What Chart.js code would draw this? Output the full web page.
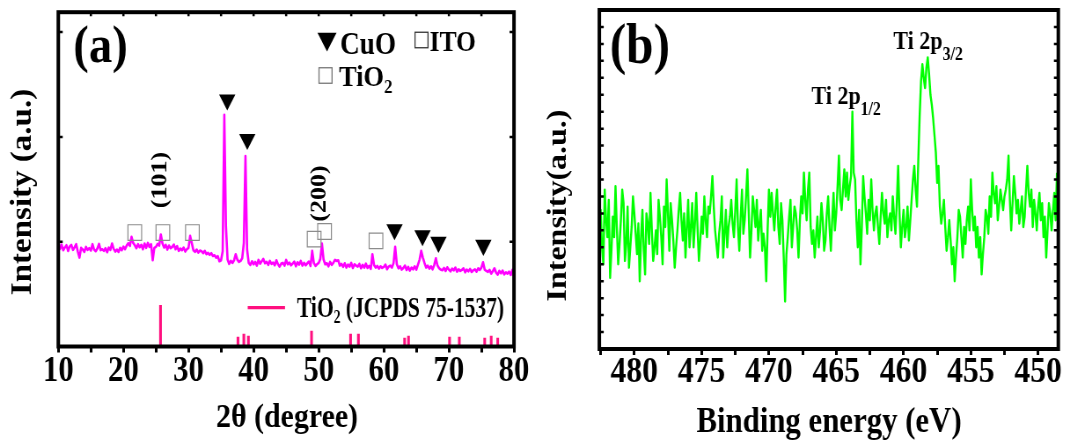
<!DOCTYPE html>
<html><head><meta charset="utf-8">
<script src="https://cdn.jsdelivr.net/npm/chart.js@4.4.1/dist/chart.umd.min.js"></script>
<style>
html,body{margin:0;padding:0;background:#fff;width:1070px;height:445px;overflow:hidden;}
canvas{position:absolute;top:0;}
</style></head><body>
<canvas id="ca" width="608" height="445" style="left:0px;width:535px;height:445px;"></canvas>
<canvas id="cb" width="608" height="445" style="left:535px;width:535px;height:445px;"></canvas>
<script>
// ---------- Panel (a): XRD ----------
const xrdStart = 10, xrdStep = 0.25;   // 2θ grid of the scan (degrees)
const xrdIntensity = [
 30.0,29.2,30.5,28.8, 29.6,30.3,28.6,29.9, 30.4,28.9,29.7,30.6, 28.4,26.6,29.5,29.0, 28.3,29.8,28.9,29.4,
 28.7,30.6,29.0,28.5, 29.3,30.7,28.8,29.1, 28.6,29.4,28.2,29.6, 28.9,30.8,29.2,28.4, 29.0,28.3,29.5,28.8,
 29.9,29.1,30.2,30.9, 30.1,32.8,31.0,30.3, 29.4,30.6,29.7,30.4, 29.1,30.8,29.5,31.0, 29.8,30.6,25.8,29.5,
 29.8,30.7,30.2,33.5, 30.8,29.6,30.4,29.0, 30.2,29.4,29.8,30.5, 29.1,30.0,28.6,29.3, 28.8,29.6,28.4,29.1,
 29.5,33.1,31.0,28.8, 28.3,29.0,28.1,28.7, 28.5,27.9,28.6,27.6, 28.0,27.4,27.9,27.1, 27.3,26.6,27.0,25.5,
 25.8,28.5,69.3,36.0, 26.0,24.7,25.6,25.0, 25.8,27.6,26.0,25.3, 25.6,26.4,31.0,57.0, 29.0,25.0,24.4,25.5,
 24.6,25.3,24.2,25.9, 24.8,25.5,26.2,24.9, 25.3,24.4,25.6,24.7, 25.1,24.3,25.8,24.6, 23.9,24.8,25.0,24.2,
 25.9,24.6,25.1,24.3, 24.8,25.4,24.0,25.2, 24.5,25.6,24.2,25.0, 24.3,24.9,25.4,24.1, 28.6,25.0,24.1,24.6,
 25.0,26.2,30.8,26.0, 24.6,24.9,24.0,25.3, 24.4,25.0,25.9,25.6, 25.8,24.2,24.7,23.8, 24.9,23.6,24.5,23.9,
 25.0,23.5,24.6,24.2, 23.9,24.7,23.4,24.4, 23.6,24.8,23.5,24.1, 23.2,27.6,24.4,23.6, 24.1,23.3,24.0,23.5,
 23.8,24.5,23.1,23.9, 24.2,23.6,25.0,29.8, 24.6,23.4,24.0,23.0, 23.5,24.2,22.9,23.8, 22.7,23.6,23.1,24.0,
 23.0,24.5,26.0,28.6, 26.6,25.0,23.6,24.2, 23.3,24.0,23.1,24.4, 26.4,24.2,23.4,23.0, 22.8,23.5,22.6,23.7,
 23.0,22.5,23.3,22.8, 23.6,22.4,23.1,22.6, 22.9,23.4,22.2,23.0, 22.5,23.2,22.3,22.8, 23.1,22.4,23.4,22.9,
 23.6,25.2,23.0,22.6, 22.3,22.9,21.8,22.5, 23.4,22.1,21.5,22.6, 21.9,22.7,21.6,22.2, 21.8,22.4,21.4,22.9,
 23.4
];
const jcpdsAngle  = [25.7, 37.6, 38.5, 39.2, 48.9, 54.9, 56.1, 63.2, 63.8, 70.1, 71.6, 75.5, 76.5, 77.5];
const jcpdsHeight = [12.3, 2.8, 3.7, 3.1, 4.6, 3.7, 3.7, 2.5, 3.1, 2.8, 2.8, 2.5, 3.1, 2.5];
const cuoMarkAngle  = [35.95, 39.03, 61.65, 65.95, 68.4, 75.3];
const cuoMarkHeight = [73.8, 62.0, 35.0, 33.2, 31.2, 30.3];
const squareMarkAngle  = [21.75, 26.06, 30.6, 49.3, 50.9, 58.8];
const squareMarkHeight = [34.1, 34.1, 34.1, 32.1, 34.4, 31.6];
const xrdTickLabels = [10, 20, 30, 40, 50, 60, 70, 80];

// ---------- Panel (b): XPS Ti 2p ----------
const xpsStart = 482.6, xpsStep = -0.1;   // binding-energy grid (eV)
const xpsIntensity = [
 36,41,30,25,47,38,33,44,21,29,  39,33,48,36,25,31,38,47,43,26,  31,42,24,30,36,45,40,34,28,37,
 20,33,41,29,22,40,37,31,46,35,  26,30,35,28,44,39,33,25,42,36,  50,40,29,43,38,32,24,30,35,41,
 46,38,32,40,27,36,44,30,36,43,  30,37,46,35,26,32,39,34,45,38,  33,42,40,45,51,42,35,31,27,34,
 38,45,27,34,41,30,36,39,44,37,  33,41,50,36,29,39,47,34,38,45,  53,40,27,35,45,41,36,44,32,37,
 41,29,34,30,20,35,47,39,46,40,  35,42,47,36,31,43,38,27,14,28,  33,39,44,30,36,42,40,35,27,38,
 45,40,52,44,38,47,52,36,31,35,  27,33,39,30,35,43,38,29,32,40,  45,36,29,38,46,35,40,48,57,44,
 41,47,53,45,52,44,48,51,70,52,  50,38,30,41,25,36,51,45,40,34,  44,38,50,41,35,40,42,36,31,39,
 46,40,37,44,33,38,40,35,45,39,  34,43,54,40,30,36,41,33,36,42,  32,38,44,50,54,47,42,56,69,79,
 84,80,77,83,86,81,75,72,68,63,  58,49,54,42,37,40,44,36,29,33,  38,32,25,30,20,27,33,41,39,33,
 27,36,31,38,42,35,50,41,35,39,  30,36,27,33,22,28,33,41,39,34,  45,39,52,46,43,48,38,42,47,44,
 41,45,47,50,57,44,35,43,51,46,  40,44,37,41,45,36,39,47,54,46,  42,47,36,44,40,35,42,46,38,43,
 33,39,27,35,43,40,35,41,46,38,
 52
];
const xpsTickLabels = [480, 475, 470, 465, 460, 455, 450];

// ---------- drawing helpers ----------
const FONT = '"Liberation Serif","Times New Roman",serif';
const SX = 535 / 608;           // horizontal squeeze of the original figure
const X = css => css / SX;
const STICK = '#FF0F7F';

function text(ctx, s, x, y, size, align) {
  ctx.font = 'bold ' + size + 'px ' + FONT;
  ctx.textAlign = align || 'left'; ctx.textBaseline = 'alphabetic';
  ctx.fillStyle = '#000'; ctx.fillText(s, X(x), y);
}
function vtext(ctx, s, x, yc, size) {
  ctx.save(); ctx.translate(X(x), yc); ctx.rotate(-Math.PI / 2);
  ctx.font = 'bold ' + size + 'px ' + FONT; ctx.textAlign = 'center'; ctx.textBaseline = 'alphabetic';
  ctx.fillStyle = '#000'; ctx.fillText(s, 0, 0); ctx.restore();
}
function rich(ctx, parts, x, y, fitW) {
  let w = 0;
  parts.forEach(p => { ctx.font = 'bold ' + p.s + 'px ' + FONT; w += ctx.measureText(p.t).width; });
  const k = fitW ? (fitW / SX) / w : 1;
  ctx.save(); ctx.translate(X(x), y); ctx.scale(k, 1);
  ctx.textAlign = 'left'; ctx.textBaseline = 'alphabetic'; ctx.fillStyle = '#000';
  let cx = 0;
  parts.forEach(p => { ctx.font = 'bold ' + p.s + 'px ' + FONT; ctx.fillText(p.t, cx, p.dy || 0); cx += ctx.measureText(p.t).width; });
  ctx.restore();
}
function tri(ctx, x, yc, r) {
  const cx = X(x), h = 0.866 * r;
  ctx.beginPath(); ctx.moveTo(cx - h, yc - 0.75 * r); ctx.lineTo(cx + h, yc - 0.75 * r); ctx.lineTo(cx, yc + 0.75 * r);
  ctx.closePath(); ctx.fillStyle = '#000'; ctx.fill();
}
function box(ctx, x, yc, w, h, color) {
  ctx.strokeStyle = color; ctx.lineWidth = 1.3;
  ctx.strokeRect(X(x - w / 2), yc - h / 2, w / SX, h);
}
function frame(chart, ctx, topTicks) {
  const a = chart.chartArea, y = chart.scales.y, x = chart.scales.x;
  ctx.strokeStyle = '#000'; ctx.lineWidth = 2.5; ctx.beginPath();
  y.ticks.forEach(t => {
    if (t.value <= y.min || t.value >= y.max) return;
    const p = y.getPixelForValue(t.value);
    ctx.moveTo(a.left, p); ctx.lineTo(a.left + 5, p);
    ctx.moveTo(a.right, p); ctx.lineTo(a.right - 5, p);
  });
  if (topTicks) x.ticks.forEach(t => {
    const p = x.getPixelForValue(t.value);
    if (p <= a.left + 2 || p >= a.right - 2) return;
    ctx.moveTo(p, a.top); ctx.lineTo(p, a.top + 4);
  });
  ctx.stroke();
  ctx.lineWidth = 4; ctx.strokeRect(a.left, a.top, a.right - a.left, a.bottom - a.top);
}

const decorA = { id: 'decorA', afterDraw(chart) {
  const ctx = chart.ctx; ctx.save();
  frame(chart, ctx, true);
  text(ctx, '(a)', 100.5, 62, 53, 'center');
  tri(ctx, 327, 42, 12.5);
  text(ctx, 'CuO', 340, 53.5, 31);
  box(ctx, 421.5, 40, 13, 15.5, '#333');
  text(ctx, 'ITO', 429.6, 51.4, 29);
  box(ctx, 325.5, 75.5, 13, 15.5, '#777');
  rich(ctx, [{t: 'TiO', s: 30}, {t: '2', s: 19, dy: 7}], 339, 85.5);
  vtext(ctx, '(101)', 166.3, 180, 26);
  vtext(ctx, '(200)', 325.8, 193.5, 26);
  ctx.strokeStyle = STICK; ctx.lineWidth = 3.3; ctx.beginPath();
  ctx.moveTo(X(247.7), 307.7); ctx.lineTo(X(285), 307.7); ctx.stroke();
  rich(ctx, [{t: 'TiO', s: 30}, {t: '2', s: 19, dy: 6}, {t: ' (JCPDS 75-1537)', s: 30}], 297, 316.5, 207);
  text(ctx, '2θ (degree)', 287, 427, 34, 'center');
  vtext(ctx, 'Intensity (a.u.)', 31, 192, 33);
  ctx.restore();
}};

const decorB = { id: 'decorB', afterDraw(chart) {
  const ctx = chart.ctx; ctx.save();
  frame(chart, ctx, false);
  text(ctx, '(b)', 104.8, 63, 56, 'center');
  rich(ctx, [{t: 'Ti 2p', s: 25}, {t: '3/2', s: 18, dy: 11}], 358.4, 49);
  rich(ctx, [{t: 'Ti 2p', s: 25}, {t: '1/2', s: 18, dy: 10.5}], 276.5, 104);
  text(ctx, 'Binding energy (eV)', 294, 431.7, 35, 'center');
  vtext(ctx, 'Intensity(a.u.)', 31.2, 205.5, 32);
  ctx.restore();
}};

const tickFont = size => ({ family: FONT, weight: 'bold', size: size, lineHeight: 1 });

new Chart(document.getElementById('ca'), {
  type: 'line',
  data: { datasets: [
    { type: 'line', label: 'XRD', data: xrdIntensity.map((v, i) => ({ x: xrdStart + i * xrdStep, y: v })),
      borderColor: '#FF00FF', borderWidth: 2.6, pointRadius: 0, borderJoinStyle: 'round', tension: 0, order: 1 },
    { type: 'bar', label: 'TiO2 (JCPDS 75-1537)', data: jcpdsAngle.map((a, i) => ({ x: a, y: jcpdsHeight[i] })),
      backgroundColor: STICK, borderWidth: 0, barThickness: 2.4, order: 2 },
    { type: 'line', label: 'CuO', data: cuoMarkAngle.map((a, i) => ({ x: a, y: cuoMarkHeight[i] })),
      showLine: false, pointStyle: 'triangle', pointRotation: 180, pointRadius: 10.7,
      pointBackgroundColor: '#000', pointBorderWidth: 0, order: 0 },
    { type: 'line', label: 'TiO2 / ITO', data: squareMarkAngle.map((a, i) => ({ x: a, y: squareMarkHeight[i] })),
      showLine: false, pointStyle: 'rect', pointRadius: 11,
      pointBackgroundColor: 'rgba(0,0,0,0)', pointBorderColor: '#8c8c8c', pointBorderWidth: 1.2, order: 0 }
  ]},
  options: {
    responsive: false, animation: false, devicePixelRatio: 1, events: [],
    layout: { padding: { top: 9, right: 23.9, left: 0, bottom: 0 } },
    plugins: { legend: { display: false }, tooltip: { enabled: false } },
    scales: {
      x: { type: 'linear', min: 10, max: 80, offset: false,
        ticks: { stepSize: 5, autoSkip: false, maxRotation: 0, padding: 2, color: '#000', font: tickFont(35),
          callback: v => xrdTickLabels.includes(v) ? String(v) : '' },
        grid: { offset: false, drawOnChartArea: false, drawTicks: true, tickLength: 6, tickColor: '#000', tickWidth: 3 },
        border: { display: false }, afterFit: s => { s.height = 98.5; } },
      y: { type: 'linear', min: 0, max: 100, ticks: { stepSize: 31.35, display: false },
        grid: { display: false }, border: { display: false }, afterFit: s => { s.width = 66.25; } }
    }
  },
  plugins: [decorA]
});

new Chart(document.getElementById('cb'), {
  type: 'line',
  data: { datasets: [
    { label: 'Ti 2p', data: xpsIntensity.map((v, i) => ({ x: Math.round((xpsStart + i * xpsStep) * 10) / 10, y: v })),
      borderColor: '#00FF00', borderWidth: 2.4, pointRadius: 0, borderJoinStyle: 'round', tension: 0 }
  ]},
  options: {
    responsive: false, animation: false, devicePixelRatio: 1, events: [],
    layout: { padding: { top: 10, right: 13.3, left: 0, bottom: 0 } },
    plugins: { legend: { display: false }, tooltip: { enabled: false } },
    scales: {
      x: { type: 'linear', reverse: true, min: 448.5, max: 482.6,
        ticks: { stepSize: 2.5, includeBounds: false, autoSkip: false, maxRotation: 0, padding: 0, color: '#000', font: tickFont(36),
          callback: v => xpsTickLabels.includes(v) ? String(v) : '' },
        grid: { drawOnChartArea: false, drawTicks: true, tickLength: 6, tickColor: '#000', tickWidth: 3 },
        border: { display: false }, afterFit: s => { s.height = 96; } },
      y: { type: 'linear', min: 0, max: 100, ticks: { stepSize: 5, display: false },
        grid: { display: false }, border: { display: false }, afterFit: s => { s.width = 73.1; } }
    }
  },
  plugins: [decorB]
});
</script>
</body></html>
